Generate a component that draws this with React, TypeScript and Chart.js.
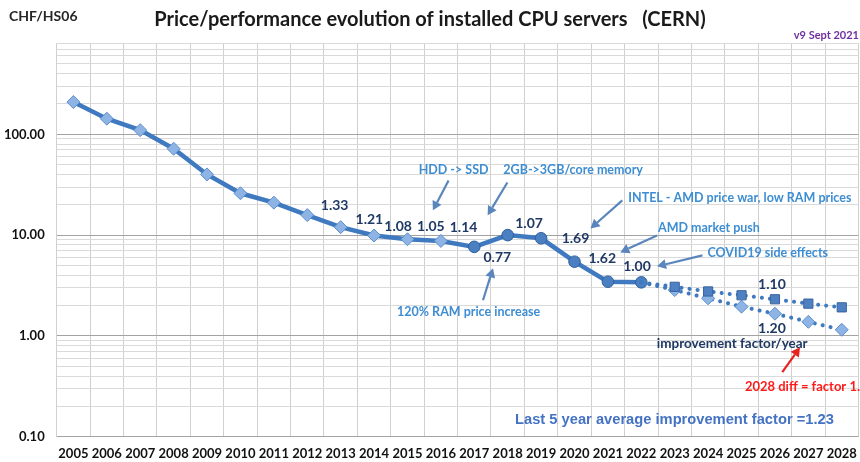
import React, { useEffect, useRef } from "react";
import { Chart, registerables } from "chart.js";

Chart.register(...registerables);

// ---------- data ----------
const years = [
  "2005", "2006", "2007", "2008", "2009", "2010", "2011", "2012",
  "2013", "2014", "2015", "2016", "2017", "2018", "2019", "2020",
  "2021", "2022", "2023", "2024", "2025", "2026", "2027", "2028",
];
// CHF/HS06, installed servers 2005..2022
const actual = [209, 143, 110, 72, 40, 26, 21, 15.8, 12.0, 9.9, 9.1, 8.75, 7.65, 10.0, 9.3, 5.45, 3.45, 3.4];
// projections 2022..2028
const projYears = ["2022", "2023", "2024", "2025", "2026", "2027", "2028"];
const proj110 = [3.4, 3.07, 2.76, 2.53, 2.31, 2.09, 1.92];
const proj120 = [3.4, 2.85, 2.36, 1.95, 1.66, 1.38, 1.15];
const yMajorTicks = [0.1, 1, 10, 100];
const yMin = 0.1;
const yMax = 800;

// factor labels: text, x (category index), y (value)
const factorLabels = [
  { text: "1.33", xi: 7.82, v: 19.7 },
  { text: "1.21", xi: 8.86, v: 14.3 },
  { text: "1.08", xi: 9.72, v: 12.2 },
  { text: "1.05", xi: 10.7, v: 12.2 },
  { text: "1.14", xi: 11.68, v: 11.9 },
  { text: "0.77", xi: 12.69, v: 6.01 },
  { text: "1.07", xi: 13.64, v: 13.1 },
  { text: "1.69", xi: 15.03, v: 9.27 },
  { text: "1.62", xi: 15.83, v: 5.88 },
  { text: "1.00", xi: 16.87, v: 4.9 },
  { text: "1.10", xi: 20.91, v: 3.25 },
  { text: "1.20", xi: 20.91, v: 1.19 },
];

const notes = [
  { text: "HDD -> SSD", xi: 11.38, v: 44.7, align: "center" },
  { text: "2GB->3GB/core memory", xi: 12.87, v: 44.7, align: "left" },
  { text: "INTEL - AMD price war, low RAM prices", xi: 16.61, v: 23.6, align: "left" },
  { text: "AMD market push", xi: 17.5, v: 11.65, align: "left" },
  { text: "COVID19 side effects", xi: 18.98, v: 6.59, align: "left" },
  { text: "120% RAM price increase", xi: 11.83, v: 1.72, align: "center" },
];

const arrows = [
  { from: [11.23, 34.8], to: [10.76, 17.6], red: false },
  { from: [12.99, 33.3], to: [12.4, 15.7], red: false },
  { from: [12.26, 2.26], to: [12.56, 4.68], red: false },
  { from: [16.43, 22.1], to: [15.48, 11.65], red: false },
  { from: [17.47, 9.93], to: [16.37, 6.74], red: false },
  { from: [18.83, 6.3], to: [17.47, 4.9], red: false },
  { from: [21.22, 0.437], to: [21.75, 0.773], red: true },
];

const FONT = "Lato, 'Open Sans', sans-serif";
const NAVY = "#1f3864";
const NOTE_BLUE = "#3d8dd2";
const ARROW_BLUE = "#5a86bc";
const LINE_BLUE = "#3f79bf";

function buildLogTicks() {
  const out: number[] = [];
  for (let d = -1; d <= 2; d++) {
    for (let k = 1; k <= 9; k++) {
      const v = +(k * Math.pow(10, d)).toPrecision(6);
      if (v >= yMin && v <= yMax) out.push(v);
    }
  }
  if (out[out.length - 1] !== yMax) out.push(yMax);
  return out;
}
const isMajor = (v: number) => yMajorTicks.some((m) => Math.abs(m - v) < 1e-9);

const overlay = {
  id: "overlay",
  afterDraw(chart: any) {
    const { ctx } = chart;
    const x = chart.scales.x;
    const y = chart.scales.y;
    const x0 = x.getPixelForValue(0);
    const step = x.getPixelForValue(1) - x0;
    const px = (xi: number) => x0 + xi * step;
    const py = (v: number) => y.getPixelForValue(v);
    ctx.save();
    ctx.textBaseline = "middle";

    // title & headers
    ctx.fillStyle = "#1a1a1a";
    ctx.font = `bold 20px ${FONT}`;
    ctx.textAlign = "center";
    ctx.fillText("Price/performance evolution of installed CPU servers   (CERN)", 430, 20);
    ctx.font = `bold 14px ${FONT}`;
    ctx.textAlign = "left";
    ctx.fillStyle = "#262626";
    ctx.fillText("CHF/HS06", 9, 16);
    ctx.font = `bold 11px ${FONT}`;
    ctx.textAlign = "right";
    ctx.fillStyle = "#7030a0";
    ctx.fillText("v9 Sept 2021", 859, 35);

    // arrows
    for (const a of arrows) {
      const x1 = px(a.from[0]), y1 = py(a.from[1]);
      const x2 = px(a.to[0]), y2 = py(a.to[1]);
      const col = a.red ? "#e8231f" : ARROW_BLUE;
      const ang = Math.atan2(y2 - y1, x2 - x1);
      const hl = 9, hw = 5;
      const bx = x2 - hl * Math.cos(ang), by = y2 - hl * Math.sin(ang);
      ctx.strokeStyle = col;
      ctx.lineWidth = 2.2;
      ctx.beginPath();
      ctx.moveTo(x1, y1);
      ctx.lineTo(bx, by);
      ctx.stroke();
      ctx.fillStyle = col;
      ctx.beginPath();
      ctx.moveTo(x2, y2);
      ctx.lineTo(bx + hw * Math.sin(ang), by - hw * Math.cos(ang));
      ctx.lineTo(bx - hw * Math.sin(ang), by + hw * Math.cos(ang));
      ctx.closePath();
      ctx.fill();
    }

    // notes
    ctx.font = `bold 12.5px ${FONT}`;
    ctx.fillStyle = NOTE_BLUE;
    for (const n of notes) {
      ctx.textAlign = n.align as CanvasTextAlign;
      ctx.fillText(n.text, px(n.xi), py(n.v));
    }

    // factor labels
    ctx.font = `bold 14px ${FONT}`;
    ctx.fillStyle = NAVY;
    ctx.textAlign = "center";
    for (const f of factorLabels) ctx.fillText(f.text, px(f.xi), py(f.v));

    ctx.font = `bold 13.5px ${FONT}`;
    ctx.fillText("improvement factor/year", px(19.72), py(0.847));

    ctx.textAlign = "left";
    ctx.font = `bold 13px ${FONT}`;
    ctx.fillStyle = "#ff1a1a";
    ctx.fillText("2028 diff = factor 1.7", px(20.1), py(0.31));

    ctx.font = `bold 14.7px 'Liberation Sans', Arial, sans-serif`;
    ctx.fillStyle = "#4472c4";
    ctx.fillText("Last 5 year average improvement factor =1.23", px(13.22), py(0.146));
    ctx.restore();
  },
};

export default function App() {
  const ref = useRef<HTMLCanvasElement | null>(null);

  useEffect(() => {
    if (!ref.current) return;
    const actualData = years.map((_, i) => (i < actual.length ? actual[i] : null));
    const start = years.indexOf(projYears[0]);
    const p110 = years.map((_, i) => (i >= start ? proj110[i - start] : null));
    const p120 = years.map((_, i) => (i >= start ? proj120[i - start] : null));
    const splitIdx = years.indexOf("2017");

    const mainStyle = years.map((_, i) => (i < splitIdx ? "rectRot" : "circle"));
    const mainRadius = years.map((_, i) => (i < splitIdx ? 6.5 : 5.8));
    const mainFill = years.map((_, i) => (i < splitIdx ? "#8db4e4" : "#4a7fc2"));
    const mainBorder = years.map((_, i) => (i < splitIdx ? "#5c8fcc" : "#2f5f9c"));
    const projRadius = years.map((_, i) => (i > start ? 6.5 : 0));

    const chart = new Chart(ref.current, {
      type: "line",
      data: {
        labels: years,
        datasets: [
          {
            data: p110,
            borderColor: LINE_BLUE,
            borderWidth: 4,
            borderDash: [0.1, 8],
            borderCapStyle: "round",
            pointStyle: "rect",
            pointRadius: projRadius,
            pointBackgroundColor: "#4f81c2",
            pointBorderColor: "#35649f",
            pointBorderWidth: 1,
            tension: 0,
          },
          {
            data: p120,
            borderColor: LINE_BLUE,
            borderWidth: 4,
            borderDash: [0.1, 8],
            borderCapStyle: "round",
            pointStyle: "rectRot",
            pointRadius: projRadius,
            pointBackgroundColor: "#8db4e4",
            pointBorderColor: "#5c8fcc",
            pointBorderWidth: 1,
            tension: 0,
          },
          {
            data: actualData,
            borderColor: LINE_BLUE,
            borderWidth: 4.5,
            pointStyle: mainStyle as any,
            pointRadius: mainRadius,
            pointBackgroundColor: mainFill,
            pointBorderColor: mainBorder,
            pointBorderWidth: 1,
            tension: 0,
          },
        ],
      },
      options: {
        responsive: false,
        animation: false,
        devicePixelRatio: 1,
        layout: { padding: { top: 43.3, left: 0, right: 0, bottom: 0 } },
        plugins: { legend: { display: false }, tooltip: { enabled: false }, title: { display: false } },
        scales: {
          x: {
            type: "category",
            offset: true,
            grid: { offset: true, color: "#d0d0d0", lineWidth: 1, drawTicks: false },
            border: { display: false },
            ticks: {
              autoSkip: false,
              maxRotation: 0,
              padding: 9,
              color: "#111",
              font: { family: FONT, size: 13, weight: "bold" },
            },
            afterFit: (s: any) => {
              s.height = 25.3;
            },
          },
          y: {
            type: "logarithmic",
            min: yMin,
            max: yMax,
            afterBuildTicks: (s: any) => {
              s.ticks = buildLogTicks().map((v) => ({ value: v }));
            },
            grid: {
              drawTicks: false,
              color: (c: any) => (isMajor(c.tick.value) ? "#a3a3a3" : "#dadada"),
              lineWidth: 1,
            },
            border: { display: false },
            ticks: {
              padding: 12,
              autoSkip: false,
              color: "#111",
              font: { family: FONT, size: 13, weight: "bold" },
              callback: (v: any) => (isMajor(Number(v)) ? Number(v).toFixed(2) : ""),
            },
            afterFit: (s: any) => {
              s.width = 56.7;
            },
          },
        },
      },
      plugins: [overlay],
    });
    return () => chart.destroy();
  }, []);

  return (
    <div
      style={{
        position: "fixed",
        left: 0,
        top: 0,
        width: 860,
        height: 462,
        overflow: "hidden",
        background: "#fff",
      }}
    >
      <canvas ref={ref} width={866} height={462} style={{ display: "block", width: 866, height: 462 }} />
    </div>
  );
}
